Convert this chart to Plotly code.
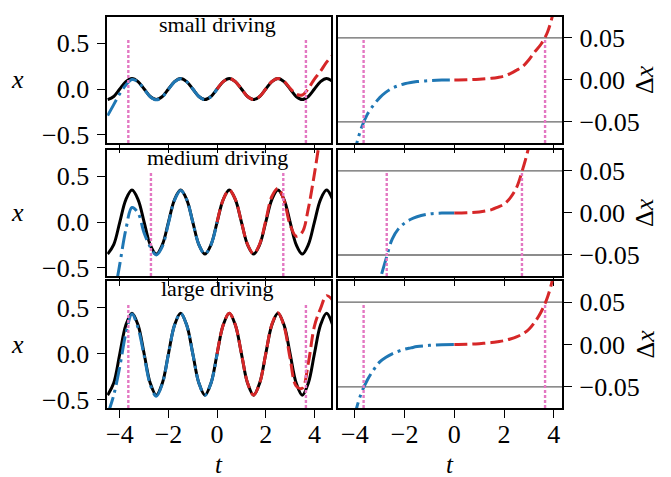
import plotly.graph_objects as go

# ---------------- data ----------------
t_full = [-4.5, -4.25, -4.0, -3.75, -3.5, -3.25, -3.0, -2.75, -2.5, -2.25, -2.0, -1.75,
          -1.5, -1.25, -1.0, -0.75, -0.5, -0.25, 0.0, 0.25, 0.5, 0.75, 1.0, 1.25,
          1.5, 1.75, 2.0, 2.25, 2.5, 2.75, 3.0, 3.25, 3.5, 3.75, 4.0, 4.25, 4.5, 4.75]
t_back = [-4.5, -4.25, -4.0, -3.75, -3.5, -3.25, -3.0, -2.75, -2.5, -2.25, -2.0, -1.75,
          -1.5, -1.25, -1.0, -0.75, -0.5, -0.25, 0.0]
t_fwd = [0.0, 0.25, 0.5, 0.75, 1.0, 1.25, 1.5, 1.75, 2.0, 2.25, 2.5, 2.75, 3.0, 3.25,
         3.5, 3.75, 4.0, 4.25, 4.5, 4.75]

# true trajectories
x_true_small = [-0.115, -0.081, 0.0, 0.081, 0.115, 0.081, 0.0, -0.081,
                -0.115, -0.081, 0.0, 0.081, 0.115, 0.081, 0.0, -0.081,
                -0.115, -0.081, 0.0, 0.081, 0.115, 0.081, 0.0, -0.081,
                -0.115, -0.081, 0.0, 0.081, 0.115, 0.081, 0.0, -0.081,
                -0.115, -0.081, 0.0, 0.081, 0.115, 0.081]
x_true_medium = [-0.35, -0.247, 0.0, 0.247, 0.35, 0.247, 0.0, -0.247,
                 -0.35, -0.247, 0.0, 0.247, 0.35, 0.247, 0.0, -0.247,
                 -0.35, -0.247, 0.0, 0.247, 0.35, 0.247, 0.0, -0.247,
                 -0.35, -0.247, 0.0, 0.247, 0.35, 0.247, 0.0, -0.247,
                 -0.35, -0.247, 0.0, 0.247, 0.35, 0.247]
x_true_large = [-0.45, -0.318, 0.0, 0.311, 0.44, 0.311, 0.0, -0.318,
                -0.45, -0.318, 0.0, 0.311, 0.44, 0.311, 0.0, -0.318,
                -0.45, -0.318, 0.0, 0.311, 0.44, 0.311, 0.0, -0.318,
                -0.45, -0.318, 0.0, 0.311, 0.44, 0.311, 0.0, -0.318,
                -0.45, -0.318, 0.0, 0.311, 0.44, 0.311]

# backward (blue) predictions
x_back_small = [-0.29, -0.17, -0.05, 0.045, 0.105, 0.079, -0.002, -0.084, -0.118, -0.083,
                -0.002, 0.080, 0.114, 0.081, 0.0, -0.081, -0.115, -0.081, 0.0]
x_back_medium = [-1.3, -0.85, -0.46, -0.08, 0.16, 0.10, -0.12, -0.27, -0.36, -0.265,
                 -0.012, 0.24, 0.346, 0.245, -0.001, -0.247, -0.35, -0.247, 0.0]
x_back_large = [-0.66, -0.45, -0.14, 0.22, 0.43, 0.28, -0.021, -0.334, -0.462, -0.326,
                -0.005, 0.308, 0.438, 0.31, -0.001, -0.318, -0.45, -0.318, 0.0]

# forward (red) predictions
x_fwd_small = [0.0, 0.081, 0.115, 0.081, 0.0, -0.081, -0.115, -0.080, 0.001, 0.083,
               0.117, 0.085, 0.008, -0.056, -0.065, 0.005, 0.11, 0.195, 0.295, 0.37]
x_fwd_medium = [0.0, 0.247, 0.35, 0.248, 0.001, -0.245, -0.346, -0.24, 0.015, 0.28,
                0.37, 0.24, -0.03, -0.155, -0.11, 0.15, 0.53, 0.95, 1.3, 1.6]
x_fwd_large = [0.0, 0.311, 0.44, 0.312, 0.001, -0.316, -0.449, -0.318, 0.0, 0.318,
               0.445, 0.30, -0.05, -0.35, -0.375, -0.10, 0.30, 0.49, 0.63, 0.58]

# errors (right column)
t_err_back = [-4.25, -4.0, -3.75, -3.5, -3.25, -3.0, -2.75, -2.5, -2.25, -2.0, -1.75,
              -1.5, -1.0, -0.5, 0.0]
t_err_fwd = [0.0, 0.5, 1.0, 1.5, 1.75, 2.0, 2.25, 2.5, 2.75, 3.0, 3.25, 3.5, 3.75, 4.0, 4.25]
dx_back_small = [-0.13, -0.085, -0.058, -0.041, -0.03, -0.021, -0.0145, -0.0098, -0.0068,
                 -0.0045, -0.003, -0.002, -0.0008, -0.0002, 0.0]
dx_fwd_small = [0.0, 0.0002, 0.0008, 0.002, 0.003, 0.0045, 0.0075, 0.0115, 0.016, 0.024,
                0.034, 0.043, 0.057, 0.083, 0.125]
dx_back_medium = [-0.4, -0.3, -0.2, -0.14, -0.13, -0.082, -0.055, -0.031, -0.019, -0.012,
                  -0.0075, -0.0045, -0.0012, -0.0002, 0.0]
dx_fwd_medium = [0.0, 0.0002, 0.0012, 0.004, 0.007, 0.0105, 0.018, 0.03, 0.052, 0.08,
                 0.13, 0.2, 0.3, 0.4, 0.5]
dx_back_large = [-0.125, -0.083, -0.058, -0.042, -0.03, -0.0205, -0.015, -0.011, -0.008,
                 -0.0055, -0.004, -0.0025, -0.001, -0.0002, 0.0]
dx_fwd_large = [0.0, 0.0002, 0.001, 0.0023, 0.0033, 0.0045, 0.0065, 0.009, 0.0125, 0.018,
                0.027, 0.039, 0.056, 0.083, 0.125]

row_titles = ["small driving", "medium driving", "large driving"]
t_cut = [3.65, 2.72, 3.65]          # |Δx| = 0.05 crossing times
dx_thresh = [-0.05, 0.05]

x_ticks = [-4, -2, 0, 2, 4]
x_ticktext = ["−4", "−2", "0", "2", "4"]
y_ticks = [-0.5, 0.0, 0.5]
y_ticktext = ["−0.5", "0.0", "0.5"]
dy_ticks = [-0.05, 0.0, 0.05]
dy_ticktext = ["−0.05", "0.00", "0.05"]

# ---------------- styling ----------------
W, H = 671, 477
FONT = "Liberation Serif, Times New Roman, serif"
BLACK = "#000000"
BLUE = "#1f77b4"
RED = "#d62728"
PINK = "#e377c2"
TICK_SIZE = 26

left_px = (98.3, 322.7)
right_px = (329.0, 554.3)
rows_px = [(9, 137), (144, 272), (277, 406)]

def xdom(p):
    return [p[0] / W, p[1] / W]

def ydom(p):
    return [(H - p[1]) / H, (H - p[0]) / H]

def suffix(i):
    return "" if i == 1 else str(i)

x_true = [x_true_small, x_true_medium, x_true_large]
x_back = [x_back_small, x_back_medium, x_back_large]
x_fwd = [x_fwd_small, x_fwd_medium, x_fwd_large]
dx_back = [dx_back_small, dx_back_medium, dx_back_large]
dx_fwd = [dx_fwd_small, dx_fwd_medium, dx_fwd_large]

fig = go.Figure()
layout = dict(width=W, height=H, margin=dict(l=0, r=0, t=0, b=0),
              plot_bgcolor="white", paper_bgcolor="white", showlegend=False,
              font=dict(family=FONT, size=TICK_SIZE, color="black"))
shapes = []
annotations = []

axis_common = dict(showgrid=False, zeroline=False, showline=True, mirror=True,
                   linecolor="black", linewidth=1.6, ticks="outside", ticklen=8,
                   tickwidth=1.3, tickcolor="black",
                   tickfont=dict(family=FONT, size=TICK_SIZE, color="black"))

BLUE_DASH = "18px,5px,3px,5px"
RED_DASH = "13px,5px"

for r in range(3):
    li = suffix(2 * r + 1)
    ri = suffix(2 * r + 2)
    lx, ly = f"x{li}", f"y{li}"
    rx, ry = f"x{ri}", f"y{ri}"
    # left column
    fig.add_trace(go.Scatter(x=t_full, y=x_true[r], mode="lines", xaxis=lx, yaxis=ly,
                             line=dict(color=BLACK, width=3, shape="spline")))
    fig.add_trace(go.Scatter(x=t_back, y=x_back[r], mode="lines", xaxis=lx, yaxis=ly,
                             line=dict(color=BLUE, width=3, shape="spline",
                                       dash=BLUE_DASH)))
    fig.add_trace(go.Scatter(x=t_fwd, y=x_fwd[r], mode="lines", xaxis=lx, yaxis=ly,
                             line=dict(color=RED, width=3, shape="spline",
                                       dash=RED_DASH)))
    # right column
    fig.add_trace(go.Scatter(x=t_err_back, y=dx_back[r], mode="lines", xaxis=rx, yaxis=ry,
                             line=dict(color=BLUE, width=3, shape="spline",
                                       dash=BLUE_DASH)))
    fig.add_trace(go.Scatter(x=t_err_fwd, y=dx_fwd[r], mode="lines", xaxis=rx, yaxis=ry,
                             line=dict(color=RED, width=3, shape="spline",
                                       dash=RED_DASH)))

    last = (r == 2)
    layout[f"xaxis{li}"] = dict(axis_common, domain=xdom(left_px), anchor=ly,
                                range=[-4.52, 4.69], tickvals=x_ticks,
                                ticktext=x_ticktext, showticklabels=last,
                                ticklabelstandoff=-6)
    layout[f"yaxis{li}"] = dict(axis_common, domain=ydom(rows_px[r]), anchor=lx,
                                range=[-0.59, 0.79], tickvals=y_ticks,
                                ticktext=y_ticktext, side="left",
                                ticklabelstandoff=3)
    layout[f"xaxis{ri}"] = dict(axis_common, domain=xdom(right_px), anchor=ry,
                                range=[-4.7, 4.35], tickvals=x_ticks,
                                ticktext=x_ticktext, showticklabels=last,
                                ticklabelstandoff=-6)
    layout[f"yaxis{ri}"] = dict(axis_common, domain=ydom(rows_px[r]), anchor=rx,
                                range=[-0.075, 0.075], tickvals=dy_ticks,
                                ticktext=dy_ticktext, side="right",
                                ticklabelstandoff=2)

    # threshold lines
    for v in dx_thresh:
        shapes.append(dict(type="line", xref=f"{rx} domain", yref=ry, x0=0, x1=1,
                           y0=v, y1=v, line=dict(color="#666666", width=1.3),
                           layer="below"))
    # vertical cut lines
    for ax_x, ax_y in ((lx, ly), (rx, ry)):
        for tc in (-t_cut[r], t_cut[r]):
            shapes.append(dict(type="line", xref=ax_x, yref=f"{ax_y} domain",
                               x0=tc, x1=tc, y0=0, y1=0.82,
                               line=dict(color=PINK, width=2.4, dash="3px,2px")))

    # panel title
    y_top = rows_px[r][0]
    annotations.append(dict(text=row_titles[r], xref=lx, yref="paper", x=0,
                            y=(H - (y_top + 8)) / H, showarrow=False,
                            xanchor="center", yanchor="middle",
                            font=dict(family=FONT, size=22, color="black")))
    # axis titles
    yc = (H - (rows_px[r][0] + rows_px[r][1]) / 2) / H
    annotations.append(dict(text="<i>x</i>", xref="paper", yref="paper", x=9 / W, y=yc,
                            showarrow=False, textangle=0, xanchor="center",
                            yanchor="middle", font=dict(family=FONT, size=26)))
    annotations.append(dict(text="Δ<i>x</i>", xref="paper", yref="paper", x=637 / W,
                            y=yc, showarrow=False, textangle=-90, xanchor="center",
                            yanchor="middle", font=dict(family=FONT, size=26)))

for xc in ((left_px[0] + left_px[1]) / 2, (right_px[0] + right_px[1]) / 2):
    annotations.append(dict(text="<i>t</i>", xref="paper", yref="paper", x=xc / W,
                            y=(H - 463) / H, showarrow=False, xanchor="center",
                            yanchor="middle", font=dict(family=FONT, size=25)))

layout["shapes"] = shapes
layout["annotations"] = annotations
fig.update_layout(**layout)
fig.write_html("out.html")
